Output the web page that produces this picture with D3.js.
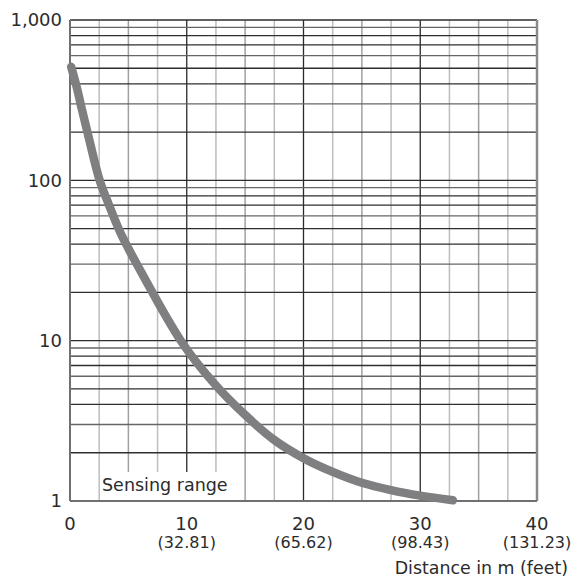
<!DOCTYPE html>
<html>
<head>
<meta charset="utf-8">
<script src="https://cdn.jsdelivr.net/npm/d3@7"></script>
<style>
  body { margin: 0; background: #fff; }
  text { font-family: "DejaVu Sans", sans-serif; fill: #2b2b2b; }
</style>
</head>
<body>
<svg id="chart" width="576" height="580"></svg>
<script>
// distance in m and value
const distance = [0.1, 0.6, 1.03, 1.65, 2.54, 3.31, 4.28, 4.99, 6.0, 7.43, 9.51, 12.5, 15, 17.5, 20, 22.5, 25, 27.5, 30, 32.8];
const value = [510, 375, 275, 179, 100, 71, 47.8, 37.7, 27.6, 17.9, 9.95, 5.25, 3.44, 2.4, 1.85, 1.52, 1.3, 1.17, 1.08, 1.01];

const xTicks = [0, 10, 20, 30, 40];
const xFeet = ["", "(32.81)", "(65.62)", "(98.43)", "(131.23)"];
const yTicks = [1, 10, 100, 1000];
const xGrid = [2.5, 5, 7.5, 10, 12.5, 15, 17.5, 20, 22.5, 25, 27.5, 30, 32.5, 35, 37.5];

const margin = {top: 20, right: 39, bottom: 79, left: 70};
const width = 576 - margin.left - margin.right;
const height = 580 - margin.top - margin.bottom;

const svg = d3.select("#chart");
const g = svg.append("g")
    .attr("transform", "translate(" + margin.left + "," + margin.top + ")");

const x = d3.scaleLinear().domain([0, 40]).range([0, width]);
const y = d3.scaleLog().domain([1, 1000]).range([height, 0]);

// vertical grid, decades darker
g.selectAll(".vgrid")
    .data(xGrid)
    .join("line")
        .attr("x1", d => x(d)).attr("x2", d => x(d))
        .attr("y1", 0).attr("y2", height)
        .style("stroke", d => d % 10 === 0 ? "#2a2a2a" : (d % 5 === 0 ? "#a0a0a0" : "#bdbdbd"))
        .style("stroke-width", d => d % 10 === 0 ? 1.3 : 1.5);

// horizontal log grid
const yGrid = [];
[1, 10, 100].forEach(dec => {
    for (let k = 2; k <= 10; k++) yGrid.push(dec * k);
});
g.selectAll(".hgrid")
    .data(yGrid)
    .join("line")
        .attr("x1", 0).attr("x2", width)
        .attr("y1", d => y(d)).attr("y2", d => y(d))
        .style("stroke", (d, i) => i % 3 === 1 ? "#666" : "#2e2e2e")
        .style("stroke-width", 1.3);

// frame
g.append("line").attr("x1", width).attr("x2", width).attr("y1", 0).attr("y2", height)
    .style("stroke", "#8a8a8a").style("stroke-width", 2.5);
g.append("line").attr("x1", 0).attr("x2", 0).attr("y1", 0).attr("y2", height)
    .style("stroke", "#707070").style("stroke-width", 2);
g.append("line").attr("x1", 0).attr("x2", width).attr("y1", height).attr("y2", height)
    .style("stroke", "#707070").style("stroke-width", 2.2);

// label box
g.append("rect")
    .attr("x", 30).attr("y", height - 29)
    .attr("width", 131).attr("height", 28)
    .style("fill", "#fff");
g.append("text")
    .attr("x", 32).attr("y", height - 10.5)
    .style("font-size", "17.5px")
    .text("Sensing range");

// curve
const line = d3.line()
    .x(d => x(d[0]))
    .y(d => y(d[1]))
    .curve(d3.curveMonotoneX);
g.append("path")
    .datum(distance.map((d, i) => [d, value[i]]))
    .attr("d", line)
    .style("fill", "none")
    .style("stroke", "#7f7f82")
    .style("stroke-width", 8.5)
    .style("stroke-linecap", "round");

// y labels
g.selectAll(".ylab")
    .data(yTicks)
    .join("text")
        .attr("x", -8)
        .attr("y", d => y(d))
        .attr("dy", "0.36em")
        .style("text-anchor", "end")
        .style("font-size", "18px")
        .text(d => d3.format(",")(d));

// x labels
g.selectAll(".xlab")
    .data(xTicks)
    .join("text")
        .attr("x", d => x(d))
        .attr("y", height + 29)
        .style("text-anchor", "middle")
        .style("font-size", "18px")
        .text(d => d);
g.selectAll(".xfeet")
    .data(xTicks)
    .join("text")
        .attr("x", d => x(d))
        .attr("y", height + 47)
        .style("text-anchor", "middle")
        .style("font-size", "16px")
        .text((d, i) => xFeet[i]);

svg.append("text")
    .attr("x", 568).attr("y", 574)
    .style("text-anchor", "end")
    .style("font-size", "17.4px")
    .text("Distance in m (feet)");
</script>
</body>
</html>
